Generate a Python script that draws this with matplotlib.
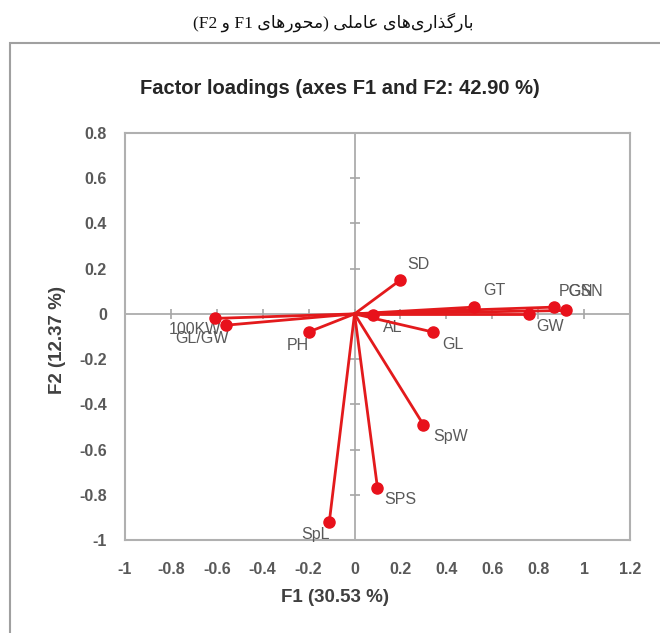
import matplotlib
matplotlib.use('Agg')
import matplotlib.pyplot as plt
from matplotlib.patches import Rectangle

# factor loadings on F1 / F2
traits = ['SD', 'GT', 'GW', 'PGN', 'GSN', '100KW', 'GL/GW', 'PH', 'AL', 'GL', 'SpW', 'SPS', 'SpL']
f1 = [0.20, 0.52, 0.76, 0.87, 0.92, -0.61, -0.56, -0.20, 0.08, 0.34, 0.30, 0.10, -0.11]
f2 = [0.15, 0.03, 0.00, 0.03, 0.015, -0.02, -0.05, -0.08, -0.005, -0.08, -0.49, -0.77, -0.92]

xticks = [-1, -0.8, -0.6, -0.4, -0.2, 0, 0.2, 0.4, 0.6, 0.8, 1, 1.2]
yticks = [-1, -0.8, -0.6, -0.4, -0.2, 0, 0.2, 0.4, 0.6, 0.8]
xtick_labels = ['-1', '-0.8', '-0.6', '-0.4', '-0.2', '0', '0.2', '0.4', '0.6', '0.8', '1', '1.2']
ytick_labels = ['-1', '-0.8', '-0.6', '-0.4', '-0.2', '0', '0.2', '0.4', '0.6', '0.8']

# label offsets in pixels (dx, dy), screen y up
offsets = {
    'SD': (18, 15), 'GT': (20, 17), 'GW': (21, -13), 'PGN': (22, 16), 'GSN': (20, 19),
    '100KW': (-20, -11), 'GL/GW': (-24, -13), 'PH': (-11, -14), 'AL': (20, -12),
    'GL': (20, -13), 'SpW': (27, -12), 'SPS': (23, -12), 'SpL': (-14, -13),
}

# Persian caption, written as shaped glyphs in visual (left-to-right) order
w_bargozari = '\ufbfc\ufe8e\ufeeb\ufbfc\ufead\ufe8d\ufeac\ufb94\ufead\ufe8e\ufe91'
w_ameli = '\ufbfd\ufee0\ufee3\ufe8e\ufecb'
w_mehvarha = '\ufbfc\ufe8e\ufeeb\ufead\ufeee\ufea4\ufee3'
w_va = '\ufeed'
caption = '(F2 ' + w_va + ' F1 ' + w_mehvarha + ') ' + w_ameli + ' ' + w_bargozari

W, H = 660, 633
fig = plt.figure(figsize=(W / 100, H / 100), dpi=100)

fig.text(333 / W, 1 - 22 / H, caption, ha='center', va='center', fontsize=12.5,
         family=['Liberation Serif', 'DejaVu Sans'], color='#111111')

# chart frame
fig.patches.append(Rectangle((10 / W, -0.1), 1.2, 1 - 43 / H + 0.1, transform=fig.transFigure,
                             fill=False, edgecolor='#a0a0a0', linewidth=1.5))

fig.text(340 / W, 1 - 88 / H, 'Factor loadings (axes F1 and F2: 42.90 %)', ha='center', va='center',
         fontsize=14.5, fontweight='bold', family='Liberation Sans', color='#262626')

ax = fig.add_axes([125 / W, 1 - 540 / H, 505 / W, 407 / H])
ax.set_xlim(-1, 1.2)
ax.set_ylim(-1, 0.8)
for s in ax.spines.values():
    s.set_color('#b0b0b0')
    s.set_linewidth(1.5)

ax.set_xticks(xticks)
ax.set_xticklabels(xtick_labels)
ax.set_yticks(yticks)
ax.set_yticklabels(ytick_labels)
ax.tick_params(length=0, labelsize=11.5, labelcolor='#595959')
ax.tick_params(axis='x', pad=16)
ax.tick_params(axis='y', pad=13)
for lab in ax.get_xticklabels() + ax.get_yticklabels():
    lab.set_fontweight('bold')
    lab.set_family('Liberation Sans')

# zero axes with cross ticks
ax.plot(xticks, [0] * len(xticks), color='#a6a6a6', lw=1.2, marker='|', ms=7, mew=1.2, zorder=1)
ax.plot([0] * len(yticks), yticks, color='#a6a6a6', lw=1.2, marker='_', ms=7, mew=1.2, zorder=1)

for name, x, y in zip(traits, f1, f2):
    ax.plot([0, x], [0, y], color='#e31a1c', lw=2, zorder=3, solid_capstyle='round')
    ax.plot(x, y, 'o', color='#e8111b', ms=8, zorder=4)
    dx, dy = offsets[name]
    ax.annotate(name, (x, y), xytext=(dx * 0.72, dy * 0.72), textcoords='offset points',
                ha='center', va='center', fontsize=11.5, color='#595959', family='Liberation Sans')

fig.text(335 / W, 1 - 597 / H, 'F1 (30.53 %)', ha='center', va='center', fontsize=13.5,
         fontweight='bold', family='Liberation Sans', color='#404040')
fig.text(58 / W, 1 - 340 / H, 'F2 (12.37 %)', ha='center', va='center', rotation=90, fontsize=13.5,
         fontweight='bold', family='Liberation Sans', color='#404040')

fig.savefig('out.png', dpi=100)
